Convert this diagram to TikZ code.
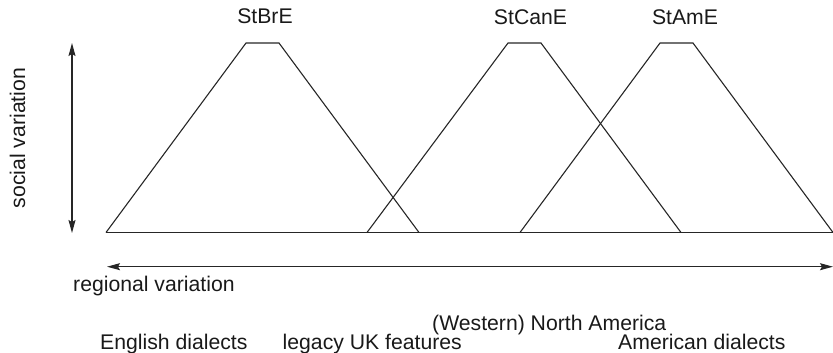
\documentclass[tikz,border=0pt]{standalone}
\usepackage{fontspec}
\setmainfont{Liberation Sans}
\usetikzlibrary{arrows.meta}
\begin{document}
\begin{tikzpicture}[x=1pt,y=-1pt,
  line/.style={line width=1.1pt,draw=black!85,line join=miter},
  axis/.style={line width=1.1pt,draw=black!85,{Stealth[length=13pt,width=7pt,inset=2pt]}-{Stealth[length=13pt,width=7pt,inset=2pt]}},
  lbl/.style={inner sep=0pt,font=\fontsize{21.2}{25}\selectfont,text=black!90}]
\useasboundingbox (0,0) rectangle (833,353);

% trapezoids: base corners (y = 232.5) and top corners (y = 43)
\coordinate (brBL) at (106,232.5); \coordinate (brTL) at (246,43);
\coordinate (brTR) at (279,43);    \coordinate (brBR) at (419,232.5);
\coordinate (caBL) at (367,232.5); \coordinate (caTL) at (508,43);
\coordinate (caTR) at (541,43);    \coordinate (caBR) at (681,232.5);
\coordinate (amBL) at (520,232.5); \coordinate (amTL) at (660,43);
\coordinate (amTR) at (693,43);    \coordinate (amBR) at (833,232.5);

\draw[line] (brBL) -- (brTL) -- (brTR) -- (brBR);
\draw[line] (caBL) -- (caTL) -- (caTR) -- (caBR);
\draw[line] (amBL) -- (amTL) -- (amTR) -- (amBR);
\draw[line] (brBL) -- (amBR);

% axes
\coordinate (socTop) at (72,43);
\coordinate (socBot) at (72,233);
\coordinate (regL) at (107,266.7);
\coordinate (regR) at (833,266.7);
\draw[axis] (socTop) -- (socBot);
\draw[axis] (regL) -- (regR);

% labels
\node[lbl,anchor=base] (tBr) at (265,24) {StBrE};
\node[lbl,anchor=base] (tCa) at (530.5,25) {StCanE};
\node[lbl,anchor=base] (tAm) at (685,25) {StAmE};
\node[lbl,anchor=base,rotate=90] (soc) at (25,138) {social variation};
\node[lbl,anchor=base west] (reg) at (73,291) {regional variation};
\node[lbl,anchor=base west] (wna) at (432,330) {(Western) North America};
\node[lbl,anchor=base west] (eng) at (100,349) {English dialects};
\node[lbl,anchor=base east] (leg) at (462,349) {legacy UK features};
\node[lbl,anchor=base west] (ame) at (618,349) {American dialects};
\end{tikzpicture}
\end{document}
